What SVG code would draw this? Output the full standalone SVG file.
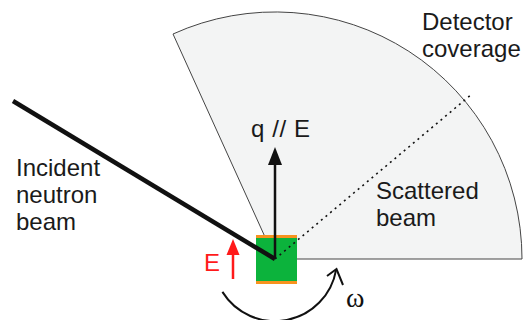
<svg xmlns="http://www.w3.org/2000/svg" width="530" height="320" viewBox="0 0 530 320">
<style>
.t{font-family:"Liberation Sans",Arial,sans-serif;font-size:24px;fill:#1a1a1a}
.red{fill:#ff1a1a}
</style>
<rect width="530" height="320" fill="#ffffff"/>
<g id="coverage">
<path d="M275,259 L522,259 A247,247 0 0 0 173,34 Z" fill="#f3f4f4" stroke="#444" stroke-width="1"/>
<text class="t" x="422" y="30">Detector</text>
<text class="t" x="422" y="57">coverage</text>
</g>
<g id="sample">
<rect x="256" y="236" width="41" height="47" fill="#0cb33c"/>
<rect x="256" y="235" width="41" height="3" fill="#f7931e"/>
<rect x="256" y="281" width="41" height="3" fill="#f7931e"/>
</g>
<g id="connectors">
<line x1="13" y1="101" x2="275" y2="259" stroke="#111" stroke-width="4.5"/>
<line x1="275" y1="259" x2="472" y2="94" stroke="#111" stroke-width="1.6" stroke-dasharray="2 4"/>
<line x1="275" y1="259" x2="275" y2="160" stroke="#111" stroke-width="2.5"/>
<polygon points="275,147 268,165 282,165" fill="#111"/>
<line x1="233" y1="279" x2="233" y2="252" stroke="#ff1a1a" stroke-width="2.5"/>
<polygon points="233,239 226.5,255 239.5,255" fill="#ff1a1a"/>
<path d="M222.4,291.9 A62,62 0 0 0 336.1,269.8" fill="none" stroke="#111" stroke-width="2"/>
<polyline points="327,276 336.5,269 343,285" fill="none" stroke="#111" stroke-width="2"/>
</g>
<g id="labels">
<text class="t" x="16" y="176">Incident</text>
<text class="t" x="16" y="203">neutron</text>
<text class="t" x="16" y="230">beam</text>
<text class="t" x="376" y="199">Scattered</text>
<text class="t" x="376" y="226">beam</text>
<text class="t" x="251" y="137" font-size="23" letter-spacing="0.6">q // E</text>
<text class="t red" x="204" y="271" font-size="23">E</text>
<text x="346" y="307" font-family="Liberation Serif,Times New Roman,serif" font-size="28" fill="#111">ω</text>
</g>
</svg>
